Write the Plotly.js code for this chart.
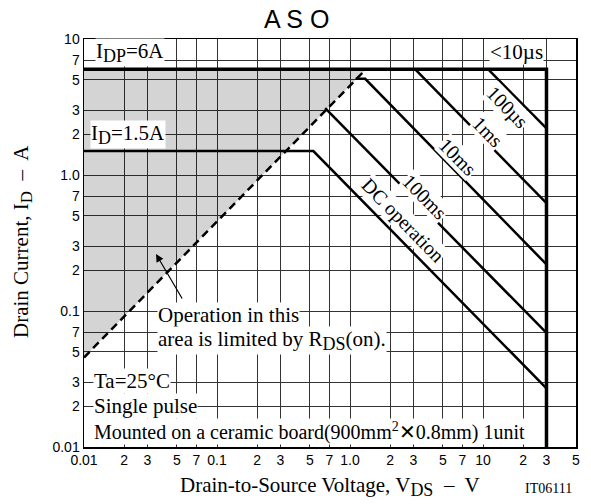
<!DOCTYPE html>
<html><head><meta charset="utf-8">
<script src="https://cdn.plot.ly/plotly-3.0.1.min.js"></script>
<style>body{margin:0;background:#fff}#chart{width:591px;height:504px}</style>
</head><body><div id="chart"></div>
<script>
// Tick values and labels
const xTickVals = [0.01,0.02,0.03,0.05,0.07,0.1,0.2,0.3,0.5,0.7,1,2,3,5,7,10,20,30,50];
const xTickText = ['0.01','2','3','5','7','0.1','2','3','5','7','1.0','2','3','5','7','10','2','3','5'];
const yTickVals = [0.01,0.02,0.03,0.05,0.07,0.1,0.2,0.3,0.5,0.7,1,2,3,5,7,10];
const yTickText = ['0.01','2','3','5','7','0.1','2','3','5','7','1.0','2','3','5','7','10'];

// Boundary: IDP = 6A up to 30V, then vertical limit at 30V
const frameV = [0.01, 30, 30];
const frameI = [6, 6, 0.01];
// RDS(on) limit line
const rdsV = [0.01, 1.32];
const rdsI = [0.0455, 6];
// Pulse lines
const us100V = [10.9, 30];   const us100I = [6, 2.2];
const ms1V   = [3.08, 30];   const ms1I   = [6, 0.62];
const ms10V  = [1.1, 1.3, 30]; const ms10I = [5.1, 5.1, 0.22];
const ms100V = [0.65, 30];   const ms100I = [3.1, 0.069];
const dcV    = [0.01, 0.53, 30]; const dcI = [1.5, 1.5, 0.027];
// Shaded region (limited by RDS(on))
const shadeV = [rdsV[0], rdsV[1], rdsV[0]];
const shadeI = [rdsI[0], rdsI[1], rdsI[1]];

const blk = 'black';
const traces = [
  {x: shadeV, y: shadeI, mode: 'lines', fill: 'toself', fillcolor: 'rgba(0,0,0,0.17)', line: {width: 0}, hoverinfo: 'skip'},
  {x: frameV, y: frameI, mode: 'lines', line: {color: blk, width: 3.5}},
  {x: rdsV, y: rdsI, mode: 'lines', line: {color: blk, width: 2.5, dash: '8px,5px'}},
  {x: us100V, y: us100I, mode: 'lines', line: {color: blk, width: 2.5}},
  {x: ms1V, y: ms1I, mode: 'lines', line: {color: blk, width: 2.5}},
  {x: ms10V, y: ms10I, mode: 'lines', line: {color: blk, width: 2.5}},
  {x: ms100V, y: ms100I, mode: 'lines', line: {color: blk, width: 2.5}},
  {x: dcV, y: dcI, mode: 'lines', line: {color: blk, width: 2.5}}
];

const L = 84, R = 576, T = 39, B = 447;
const px = v => (v - L) / (R - L);
const py = v => (B - v) / (B - T);
const serif = 'Liberation Serif, Times New Roman, serif';
const ang = 45.6;
const sub = (s, fs) => '<sub><span style="font-size:' + fs + 'px">' + s + '</span></sub>';

function lab(text, x, y, opts) {
  return Object.assign({xref: 'paper', yref: 'paper', x: px(x), y: py(y), text: text, showarrow: false,
    font: {family: serif, size: 21, color: blk}, bgcolor: 'white', borderpad: 0,
    xanchor: 'center', yanchor: 'middle'}, opts || {});
}

const annotations = [
  lab('I' + sub('DP', 18) + '=6A', 130, 52),
  lab('I' + sub('D', 18) + '=1.5A', 128, 134),
  lab('&lt;10µs', 516, 52),
  lab('100µs', 507, 108, {textangle: ang, font: {family: serif, size: 20, color: blk}}),
  lab('1ms', 488, 132, {textangle: ang, font: {family: serif, size: 20, color: blk}}),
  lab('10ms', 458, 157, {textangle: ang, font: {family: serif, size: 20, color: blk}}),
  lab('100ms', 425, 197, {textangle: ang, font: {family: serif, size: 20, color: blk}}),
  lab('DC operation', 403, 220, {textangle: ang, font: {family: serif, size: 20, color: blk}}),
  lab('Operation in this', 157, 315, {xanchor: 'left'}),
  lab('area is limited by R' + sub('DS', 18) + '(on).', 157, 340, {xanchor: 'left'}),
  lab('Ta=25°C', 93, 381, {xanchor: 'left'}),
  lab('Single pulse', 93, 406, {xanchor: 'left'}),
  lab('Mounted on a ceramic board(900mm<sup>2</sup>✕0.8mm) 1unit', 93, 431, {xanchor: 'left', font: {family: serif, size: 20, color: blk}}),
  {xref: 'paper', yref: 'paper', x: px(156), y: py(254), ax: 27, ay: 46, text: '', showarrow: true,
    arrowhead: 2, arrowsize: 1.3, arrowwidth: 1.2, arrowcolor: blk},
  lab('Drain Current, I' + sub('D', 17) + '  –  A', 22, 242, {textangle: -90, bgcolor: 'rgba(0,0,0,0)'}),
  lab('Drain-to-Source Voltage, V' + sub('DS', 18) + '  –  V', 330, 486, {bgcolor: 'rgba(0,0,0,0)'}),
  lab('IT06111', 548, 488, {bgcolor: 'rgba(0,0,0,0)', font: {family: serif, size: 14, color: blk}})
];

const axisCommon = {
  type: 'log', showgrid: true, gridcolor: '#333', gridwidth: 1,
  showline: true, mirror: true, linecolor: blk, linewidth: 1.5,
  zeroline: false, tickmode: 'array', ticks: '',
  tickfont: {family: 'Liberation Sans, Arial, sans-serif', size: 14, color: blk}
};

const layout = {
  width: 591, height: 504,
  margin: {l: L, r: 591 - R, t: T, b: 504 - B},
  paper_bgcolor: 'white', plot_bgcolor: 'white',
  showlegend: false,
  title: {text: 'A S O', x: px(331), xanchor: 'center', y: 0.962, yanchor: 'middle',
    font: {family: 'Liberation Sans, Arial, sans-serif', size: 25, color: blk}},
  xaxis: Object.assign({}, axisCommon, {range: [-2, Math.log10(50)], tickvals: xTickVals, ticktext: xTickText}),
  yaxis: Object.assign({}, axisCommon, {range: [-2, 1], tickvals: yTickVals, ticktext: yTickText}),
  annotations: annotations
};

Plotly.newPlot('chart', traces, layout, {displayModeBar: false, staticPlot: true});
</script></body></html>
